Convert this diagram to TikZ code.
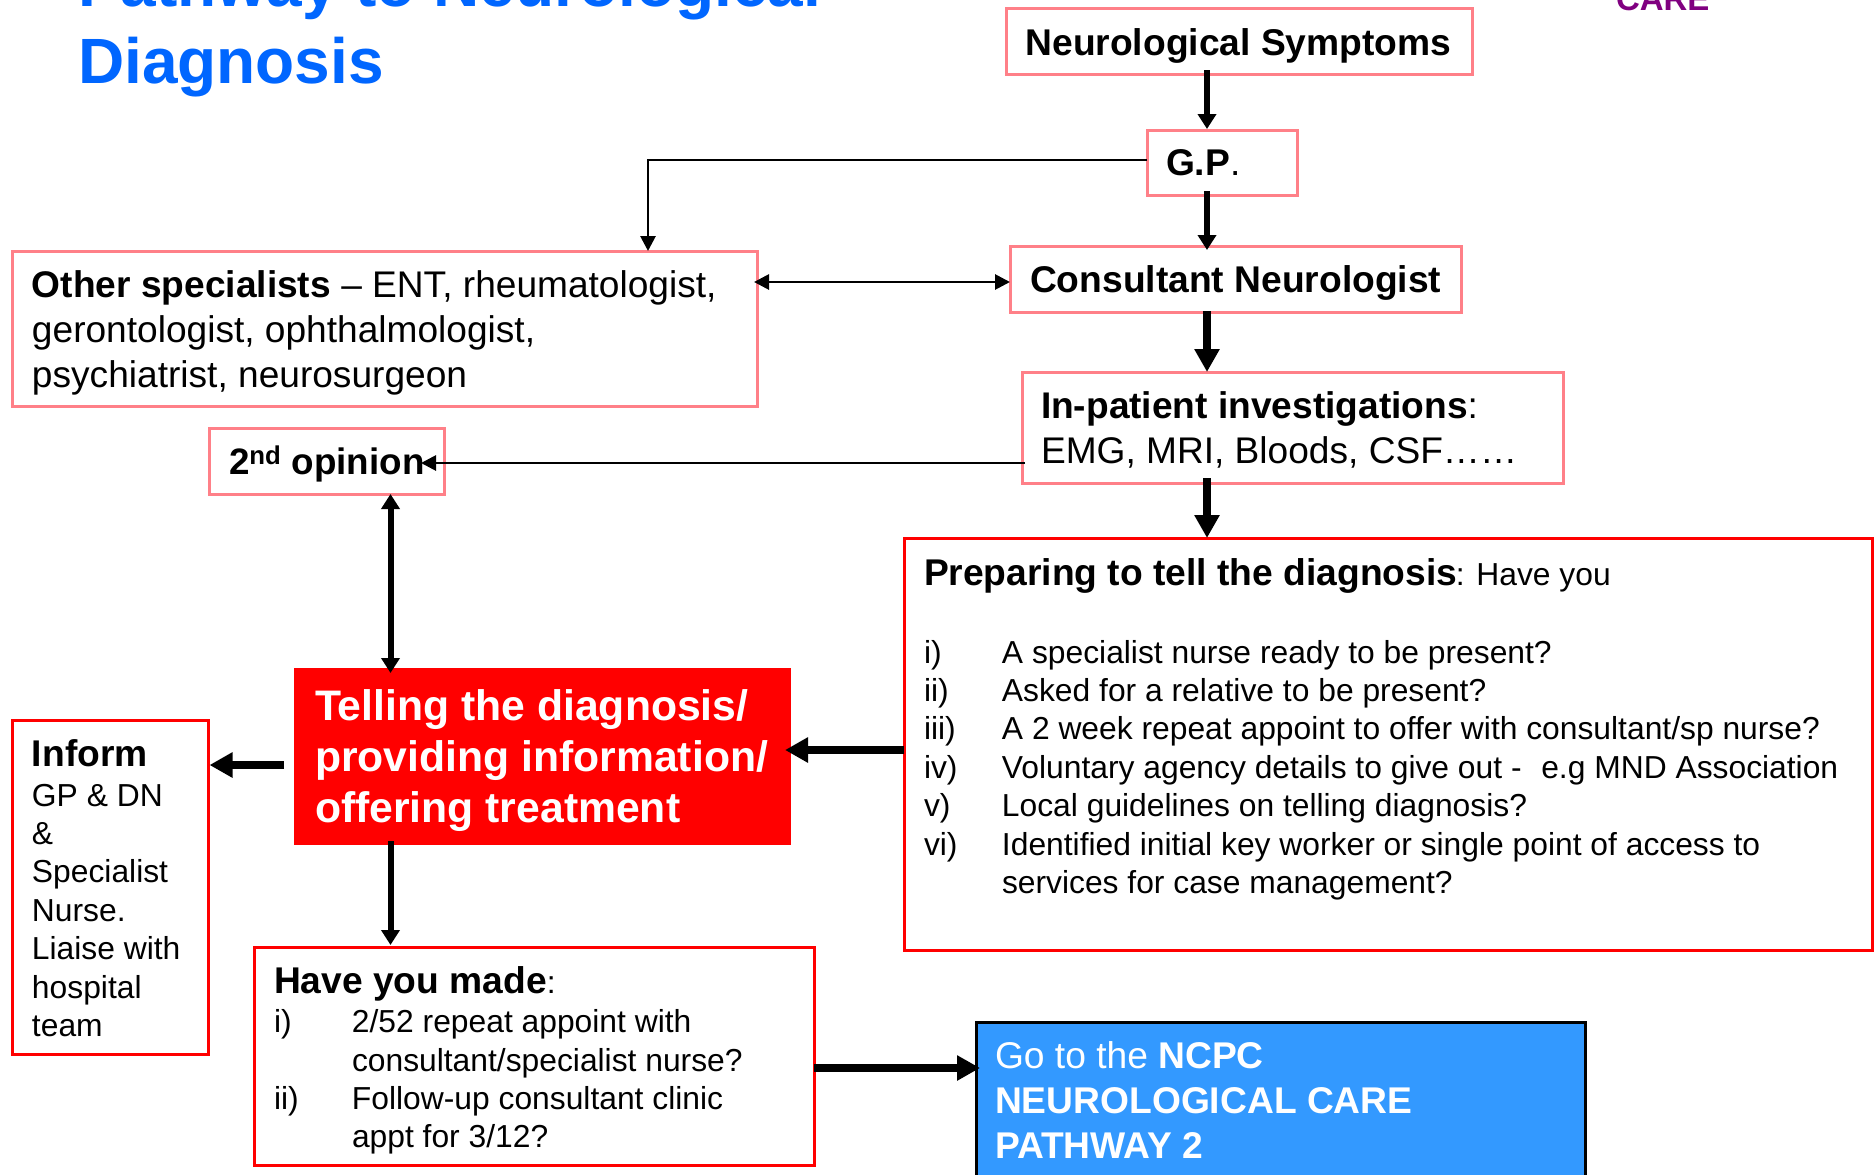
\documentclass[tikz,border=0pt]{standalone}
\usepackage{fontspec}
\setmainfont{Liberation Sans}
\usetikzlibrary{arrows.meta,calc}
\definecolor{pinkline}{HTML}{FF8088}
\definecolor{redline}{HTML}{FF0000}
\definecolor{skyfill}{HTML}{3399FF}
\definecolor{titleblue}{HTML}{0066FF}
\definecolor{logopurple}{HTML}{800080}
% width, height, text x offset, first baseline offset, content
\newcommand\fitted[5]{\vbox to #2pt{\hsize=#1pt\vskip#4pt\hbox to #1pt{\hskip#3pt\smash{#5}\hss}\vss}}
\newcommand\sized[2]{\fontsize{#1}{#2}\selectfont}
\tikzset{
  cell/.style={rectangle,inner sep=0pt,outer sep=0pt,anchor=north west},
  pinkbox/.style={cell,draw=pinkline,line width=3pt,fill=white},
  redbox/.style={cell,draw=redline,line width=3pt,fill=white},
  hotbox/.style={cell,fill=redline,text=white},
  skybox/.style={cell,draw=black,line width=3pt,fill=skyfill,text=white},
  plain/.style={inner sep=0pt,outer sep=0pt,anchor=base west},
  thinarrow/.style={line width=2.8pt,-{Triangle[length=15pt,width=15pt]}},
  thinboth/.style={line width=2.8pt,{Triangle[length=15pt,width=15pt]}-{Triangle[length=15pt,width=15pt]}},
  midarrow/.style={line width=6pt,-{Triangle[length=15pt,width=18pt]}},
  midboth/.style={line width=6pt,{Triangle[length=15pt,width=18pt]}-{Triangle[length=15pt,width=18pt]}},
  fatarrow/.style={line width=7.5pt,-{Triangle[length=23pt,width=24pt]}},
}
\begin{document}
\begin{tikzpicture}[x=1pt,y=-1pt]
\useasboundingbox (0,0) rectangle (1874,1175);
\clip (0,0) rectangle (1874,1175);
\fill[white] (0,0) rectangle (1874,1175);

\node[plain,text=titleblue] (title) at (78,6) {\sized{64}{77}\bfseries\begin{tabular}[t]{@{}l@{}}Pathway to Neurological\\Diagnosis\end{tabular}};
\node[plain,text=logopurple] (logo) at (1616,10) {\sized{33}{38}\bfseries CARE};

\node[pinkbox] (sym) at (1006,8) {\fitted{466.5}{66}{19.5}{47}{\sized{37.2}{45}\bfseries Neurological Symptoms}};
\node[pinkbox] (gp) at (1147,130) {\fitted{150.5}{65}{19}{45.5}{\sized{37.2}{45}\textbf{G.P}.}};
\node[pinkbox] (cons) at (1010,246) {\fitted{451.5}{66}{20}{46}{\sized{37.2}{45}\bfseries Consultant Neurologist}};
\node[pinkbox] (inp) at (1022,372) {\fitted{541}{111}{19}{46}{\sized{37.1}{45}\begin{tabular}[t]{@{}l@{}}\textbf{In-patient investigations}:\\EMG, MRI, Bloods, CSF……\end{tabular}}};
\node[pinkbox] (other) at (12,251) {\fitted{745}{155}{20}{46}{\sized{37.1}{45}\begin{tabular}[t]{@{}l@{}}\textbf{Other specialists} – ENT, rheumatologist,\\gerontologist, ophthalmologist,\\psychiatrist, neurosurgeon\end{tabular}}};
\node[pinkbox] (second) at (209,428) {\fitted{235}{66}{20}{46}{\sized{36.8}{45}\bfseries 2\textsuperscript{nd} opinion}};
\node[redbox] (prep) at (904,538) {\fitted{968}{412}{20}{47}{\sized{31.8}{38.4}\begin{tabular}[t]{@{}p{78pt}@{}l@{}}
\multicolumn{2}{@{}l@{}}{{\sized{37.2}{38.4}\bfseries Preparing to tell the diagnosis}\kern-1.5pt: Have you}\\
&\\[1.2pt]
i)&A specialist nurse ready to be present?\\
ii)&Asked for a relative to be present?\\
iii)&A 2 week repeat appoint to offer with consultant/sp nurse?\\
iv)&Voluntary agency details to give out -\kern2pt~ e.g MND Association\\
v)&Local guidelines on telling diagnosis?\\
vi)&Identified initial key worker or single point of access to\\
&services for case management?
\end{tabular}}};
\node[hotbox] (tell) at (294,668) {\fitted{497}{177}{21}{52}{\sized{42.7}{51}\bfseries\begin{tabular}[t]{@{}l@{}}Telling the diagnosis/\\providing information/\\offering treatment\end{tabular}}};
\node[redbox] (inform) at (12,720) {\fitted{196.5}{334}{20}{46}{\sized{31.8}{38.4}\begin{tabular}[t]{@{}l@{}}
{\sized{37.2}{38.4}\bfseries Inform}\\[1.6pt]
GP \& DN\\
\&\\
Specialist\\
Nurse.\\
Liaise with\\
hospital\\
team
\end{tabular}}};
\node[redbox] (have) at (254,947) {\fitted{560}{218}{20}{46}{\sized{31.8}{38.4}\begin{tabular}[t]{@{}p{78pt}@{}l@{}}
\multicolumn{2}{@{}l@{}}{{\sized{37.2}{38.4}\bfseries Have you made}:}\\[1.2pt]
i)&2/52 repeat appoint with\\
&consultant/specialist nurse?\\
ii)&Follow-up consultant clinic\\
&appt for 3/12?
\end{tabular}}};
\node[skybox] (ncpc) at (976,1022) {\fitted{609}{178}{19}{46}{\sized{37.2}{45}\begin{tabular}[t]{@{}l@{}}Go to the \textbf{NCPC}\\\textbf{NEUROLOGICAL CARE}\\\textbf{PATHWAY 2}\end{tabular}}};

\coordinate (spine) at (1207,0);
\coordinate (leftdrop) at (648,0);
\coordinate (leftcol) at (390.5,0);
\coordinate (gprow) at (0,160);
\coordinate (peerrow) at (0,282);
\coordinate (secondrow) at (0,463);
\coordinate (preprow) at (0,750);
\coordinate (informrow) at (0,765);
\coordinate (ncpcrow) at (0,1068);

\draw[midarrow,shorten <=-4pt,shorten >=1pt] (sym.south -| spine) -- (gp.north -| spine);
\draw[midarrow,shorten <=-4pt,shorten >=-4pt] (gp.south -| spine) -- (cons.north -| spine);
\draw[fatarrow,shorten <=-1pt] (cons.south -| spine) -- (inp.north -| spine);
\draw[fatarrow,shorten <=-5pt] (inp.south -| spine) -- (prep.north -| spine);
\draw[thinarrow] (gp.west |- gprow) -| (other.north -| leftdrop);
\draw[thinboth,shorten <=-3pt] (other.east |- peerrow) -- (cons.west |- peerrow);
\draw[thinarrow,shorten <=-3pt,shorten >=-23pt] (inp.west |- secondrow) -- (second.east |- secondrow);
\draw[midboth,shorten >=-5pt] (second.south -| leftcol) -- (tell.north -| leftcol);
\draw[midarrow,shorten <=-4pt,shorten >=2pt] (tell.south -| leftcol) -- (have.north -| leftcol);
\draw[fatarrow,shorten >=-6pt] (prep.west |- preprow) -- (tell.east |- preprow);
\draw[fatarrow,shorten <=10pt,shorten >=1pt] (tell.west |- informrow) -- (inform.east |- informrow);
\draw[fatarrow,shorten >=-4pt] (have.east |- ncpcrow) -- (ncpc.west |- ncpcrow);
\end{tikzpicture}
\end{document}
